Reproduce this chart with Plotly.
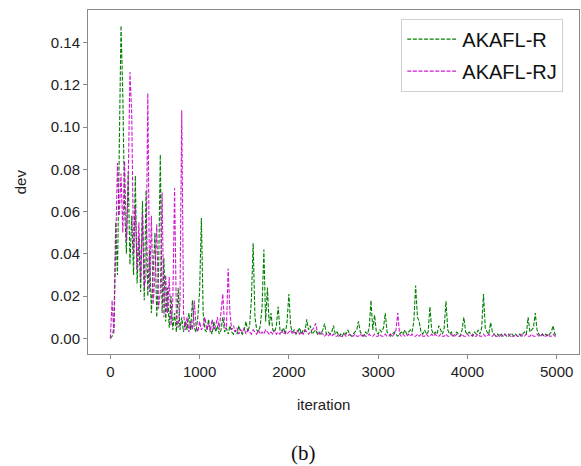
import plotly.graph_objects as go

iterations = list(range(0, 5001, 20))

akafl_r = [
 0.000, 0.001, 0.005, 0.055, 0.030, 0.092, 0.148, 0.115, 0.062, 0.040,
 0.079, 0.035, 0.058, 0.030, 0.077, 0.026, 0.048, 0.022, 0.065, 0.018,
 0.070, 0.020, 0.042, 0.012, 0.035, 0.050, 0.010, 0.030, 0.087, 0.012,
 0.038, 0.008, 0.024, 0.005, 0.020, 0.004, 0.012, 0.003, 0.024, 0.004,
 0.010, 0.003, 0.008, 0.004, 0.012, 0.004, 0.018, 0.005, 0.003, 0.010,
 0.022, 0.057, 0.012, 0.004, 0.003, 0.009, 0.004, 0.002, 0.008, 0.003,
 0.006, 0.002, 0.004, 0.010, 0.003, 0.005, 0.002, 0.006, 0.003, 0.002,
 0.004, 0.002, 0.006, 0.003, 0.002, 0.004, 0.008, 0.003, 0.006, 0.018,
 0.045, 0.010, 0.004, 0.003, 0.006, 0.015, 0.042, 0.008, 0.024, 0.006,
 0.012, 0.004, 0.003, 0.006, 0.015, 0.004, 0.003, 0.005, 0.002, 0.008,
 0.021, 0.006, 0.003, 0.004, 0.002, 0.003, 0.005, 0.002, 0.004, 0.003,
 0.009, 0.004, 0.006, 0.002, 0.003, 0.004, 0.002, 0.003, 0.002, 0.004,
 0.007, 0.002, 0.003, 0.002, 0.003, 0.006, 0.002, 0.003, 0.001, 0.002,
 0.001, 0.003, 0.002, 0.004, 0.002, 0.001, 0.002, 0.003, 0.004, 0.008,
 0.003, 0.002, 0.001, 0.003, 0.002, 0.005, 0.018, 0.004, 0.011, 0.003,
 0.002, 0.004, 0.003, 0.005, 0.012, 0.003, 0.002, 0.001, 0.002, 0.003,
 0.002, 0.001, 0.002, 0.003, 0.002, 0.004, 0.002, 0.003, 0.004, 0.003,
 0.008, 0.025, 0.010, 0.008, 0.003, 0.002, 0.004, 0.002, 0.003, 0.015,
 0.004, 0.002, 0.003, 0.002, 0.006, 0.004, 0.002, 0.005, 0.0175, 0.004,
 0.002, 0.003, 0.001, 0.002, 0.003, 0.002, 0.001, 0.004, 0.010, 0.003,
 0.002, 0.003, 0.002, 0.001, 0.003, 0.002, 0.004, 0.002, 0.005, 0.021,
 0.005, 0.003, 0.002, 0.0075, 0.003, 0.002, 0.001, 0.002, 0.001, 0.002,
 0.001, 0.002, 0.001, 0.002, 0.001, 0.002, 0.001, 0.002, 0.001, 0.002,
 0.001, 0.002, 0.003, 0.002, 0.010, 0.003, 0.004, 0.005, 0.012, 0.004,
 0.002, 0.001, 0.002, 0.001, 0.002, 0.001, 0.002, 0.003, 0.006, 0.002,
 0.001,
]

akafl_rj = [
 0.000, 0.018, 0.002, 0.048, 0.083, 0.058, 0.078, 0.050, 0.084, 0.046,
 0.072, 0.126, 0.106, 0.040, 0.062, 0.032, 0.055, 0.028, 0.059, 0.024,
 0.030, 0.116, 0.022, 0.058, 0.016, 0.030, 0.054, 0.014, 0.022, 0.069,
 0.010, 0.030, 0.012, 0.029, 0.006, 0.018, 0.071, 0.010, 0.005, 0.016,
 0.108, 0.012, 0.004, 0.010, 0.003, 0.008, 0.004, 0.018, 0.006, 0.003,
 0.008, 0.004, 0.006, 0.010, 0.004, 0.007, 0.003, 0.009, 0.004, 0.006,
 0.010, 0.004, 0.012, 0.021, 0.006, 0.004, 0.033, 0.012, 0.004, 0.006,
 0.003, 0.005, 0.002, 0.004, 0.003, 0.005, 0.002, 0.004, 0.003, 0.002,
 0.004, 0.003, 0.002, 0.004, 0.002, 0.003, 0.002, 0.004, 0.003, 0.002,
 0.003, 0.002, 0.004, 0.002, 0.003, 0.002, 0.004, 0.002, 0.003, 0.002,
 0.003, 0.004, 0.002, 0.003, 0.002, 0.004, 0.002, 0.003, 0.002, 0.004,
 0.003, 0.002, 0.003, 0.004, 0.005, 0.007, 0.003, 0.002, 0.003, 0.002,
 0.001, 0.002, 0.001, 0.002, 0.001, 0.002, 0.001, 0.001, 0.002, 0.001,
 0.001, 0.002, 0.001, 0.001, 0.002, 0.001, 0.001, 0.002, 0.001, 0.001,
 0.002, 0.001, 0.002, 0.001, 0.001, 0.002, 0.001, 0.001, 0.002, 0.001,
 0.001, 0.002, 0.001, 0.001, 0.002, 0.001, 0.001, 0.002, 0.001, 0.002,
 0.004, 0.012, 0.002, 0.001, 0.002, 0.001, 0.001, 0.002, 0.001, 0.002,
 0.001, 0.001, 0.002, 0.001, 0.002, 0.001, 0.001, 0.002, 0.001, 0.001,
 0.002, 0.001, 0.002, 0.001, 0.001, 0.002, 0.001, 0.001, 0.002, 0.001,
 0.001, 0.002, 0.001, 0.001, 0.002, 0.001, 0.001, 0.002, 0.001, 0.001,
 0.002, 0.001, 0.001, 0.002, 0.001, 0.001, 0.002, 0.001, 0.001, 0.002,
 0.001, 0.001, 0.002, 0.001, 0.001, 0.002, 0.001, 0.001, 0.002, 0.001,
 0.001, 0.002, 0.001, 0.001, 0.002, 0.001, 0.001, 0.002, 0.001, 0.001,
 0.002, 0.001, 0.001, 0.002, 0.001, 0.001, 0.002, 0.001, 0.001, 0.002,
 0.001, 0.001, 0.002, 0.001, 0.001, 0.002, 0.001, 0.001, 0.002, 0.001,
 0.001,
]

series_names = ["AKAFL-R", "AKAFL-RJ"]
x_ticks = [0, 1000, 2000, 3000, 4000, 5000]
y_ticks = [0.00, 0.02, 0.04, 0.06, 0.08, 0.10, 0.12, 0.14]

fig = go.Figure()
fig.add_trace(go.Scatter(
    x=iterations, y=akafl_r, mode="lines", name=series_names[0], legendgroup="a",
    line=dict(color="#008000", width=1.1, dash="4px,1.6px"),
))
fig.add_trace(go.Scatter(
    x=iterations, y=akafl_rj, mode="lines", name=series_names[1], legendgroup="b",
    line=dict(color="#cc00cc", width=1.1, dash="4px,1.6px"),
    opacity=0.9,
))

axis_common = dict(
    showgrid=False, zeroline=False, showline=True, mirror=True,
    linecolor="#8a8a8a", linewidth=1, ticks="outside", ticklen=4,
    tickcolor="#8a8a8a", tickfont=dict(family="Liberation Sans, Arial", size=15, color="#222"),
)

fig.update_layout(
    width=581, height=466,
    margin=dict(l=88, r=2, t=10, b=112),
    paper_bgcolor="white", plot_bgcolor="white",
    showlegend=True,
    legend=dict(
        x=0.968, y=0.975, xanchor="right", yanchor="top",
        bordercolor="#d0d0d0", borderwidth=1, bgcolor="white",
        font=dict(family="Liberation Sans, Arial", size=20, color="#111"),
        traceorder="grouped", tracegroupgap=3, itemwidth=50,
    ),
    xaxis=dict(range=[-250, 5250], tickvals=x_ticks, **axis_common),
    yaxis=dict(range=[-0.0074, 0.1554], tickvals=y_ticks, tickformat=".2f", **axis_common),
    annotations=[
        dict(text="iteration", x=0.48, y=-0.148, xref="paper", yref="paper",
             showarrow=False, xanchor="center", yanchor="middle",
             font=dict(family="Liberation Sans, Arial", size=15, color="#222")),
        dict(text="dev", x=-0.138, y=0.5, xref="paper", yref="paper",
             showarrow=False, xanchor="center", yanchor="middle", textangle=-90,
             font=dict(family="Liberation Sans, Arial", size=15, color="#222")),
        dict(text="(b)", x=0.438, y=-0.288, xref="paper", yref="paper",
             showarrow=False, xanchor="center", yanchor="middle",
             font=dict(family="Liberation Serif, DejaVu Serif", size=21, color="#111")),
    ],
)

fig.write_html(
    "out.html",
    config={"displayModeBar": False},
    post_script="document.body.style.margin='0';document.body.style.padding='0';",
)
